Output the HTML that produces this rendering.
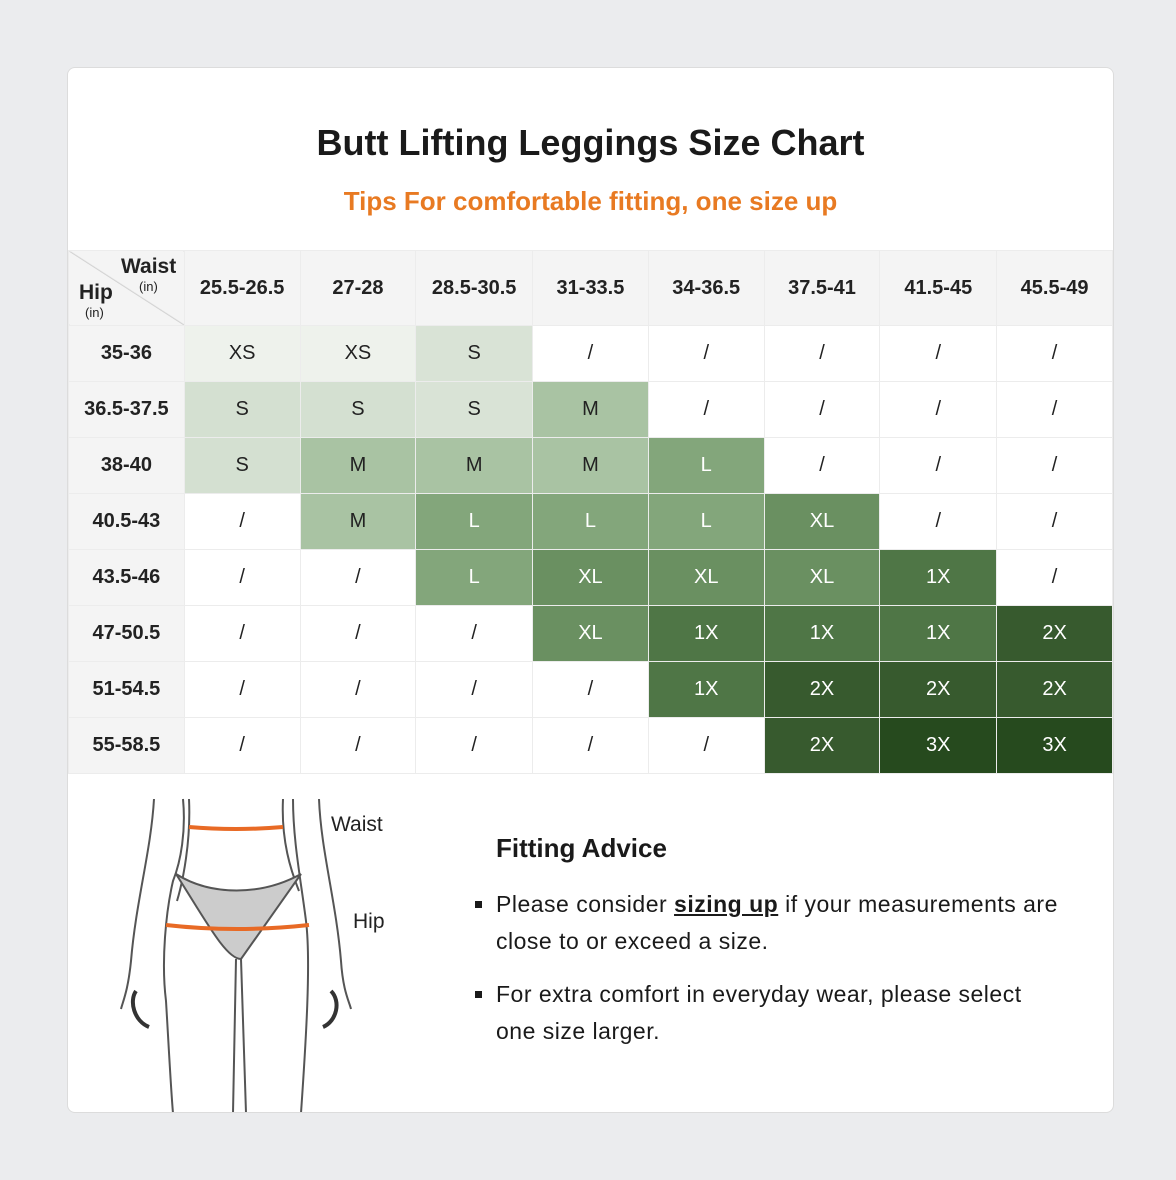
<!DOCTYPE html>
<html><head><meta charset="utf-8"><style>
body{margin:0;width:1176px;height:1180px;background:#ebecee;font-family:"Liberation Sans","DejaVu Sans",sans-serif;position:relative;overflow:hidden}
.card{position:absolute;left:67px;top:67px;width:1045px;height:1044px;background:#fff;border:1px solid #dcdcdc;border-radius:8px;overflow:hidden}
h1{position:absolute;left:0;width:100%;top:54px;margin:0;text-align:center;font-size:36px;font-weight:bold;color:#1a1a1a}
.tip{position:absolute;left:0;width:100%;top:118px;text-align:center;font-size:26px;font-weight:bold;color:#e87a22}
table{position:absolute;left:0;top:182px;border-collapse:collapse;table-layout:fixed}
td{height:55px;border:1px solid #ececec;text-align:center;font-size:20px;color:#222;padding:0}
td.h{background:#f4f4f4;font-weight:bold;font-size:20px}
tr.top td{height:74px}
.w{color:#fff}
.fa{position:absolute;left:428px;top:765px;font-size:26px;color:#1a1a1a;font-weight:bold}
ul{position:absolute;left:398px;top:818px;width:660px;margin:0;padding-left:30px;font-size:23px;letter-spacing:0.5px;line-height:37px;color:#1a1a1a;list-style:square}
li{margin-bottom:16px;white-space:nowrap}
</style></head><body>
<div class="card">
<h1>Butt Lifting Leggings Size Chart</h1>
<div class="tip">Tips For comfortable fitting, one size up</div>
<table>
<colgroup><col style="width:116px"><col style="width:116px"><col style="width:116px"><col style="width:117px"><col style="width:116px"><col style="width:116px"><col style="width:116px"><col style="width:117px"><col style="width:116px"></colgroup>
<tr class="top"><td class="h" style="position:relative;background:#f4f4f4 linear-gradient(to top right,transparent 49.5%,#ccc 50%,transparent 51%)"><span style="position:absolute;left:52px;top:4px;font-size:21px">Waist</span><span style="position:absolute;left:70px;top:28px;font-size:13px;font-weight:normal">(in)</span><span style="position:absolute;left:10px;top:30px;font-size:21px">Hip</span><span style="position:absolute;left:16px;top:54px;font-size:13px;font-weight:normal">(in)</span></td><td class="h">25.5-26.5</td><td class="h">27-28</td><td class="h">28.5-30.5</td><td class="h">31-33.5</td><td class="h">34-36.5</td><td class="h">37.5-41</td><td class="h">41.5-45</td><td class="h">45.5-49</td></tr>
<tr><td class="h">35-36</td><td style="background:#eef2ec">XS</td><td style="background:#eef2ec">XS</td><td style="background:#d9e3d6">S</td><td>/</td><td>/</td><td>/</td><td>/</td><td>/</td></tr>
<tr><td class="h">36.5-37.5</td><td style="background:#d4e0d1">S</td><td style="background:#d4e0d1">S</td><td style="background:#d9e3d6">S</td><td style="background:#a9c3a3">M</td><td>/</td><td>/</td><td>/</td><td>/</td></tr>
<tr><td class="h">38-40</td><td style="background:#d4e0d1">S</td><td style="background:#a9c3a3">M</td><td style="background:#a9c3a3">M</td><td style="background:#a9c3a3">M</td><td class="w" style="background:#83a67b">L</td><td>/</td><td>/</td><td>/</td></tr>
<tr><td class="h">40.5-43</td><td>/</td><td style="background:#a9c3a3">M</td><td class="w" style="background:#83a67b">L</td><td class="w" style="background:#83a67b">L</td><td class="w" style="background:#83a67b">L</td><td class="w" style="background:#6a9061">XL</td><td>/</td><td>/</td></tr>
<tr><td class="h">43.5-46</td><td>/</td><td>/</td><td class="w" style="background:#83a67b">L</td><td class="w" style="background:#6a9061">XL</td><td class="w" style="background:#6a9061">XL</td><td class="w" style="background:#6a9061">XL</td><td class="w" style="background:#4f7646">1X</td><td>/</td></tr>
<tr><td class="h">47-50.5</td><td>/</td><td>/</td><td>/</td><td class="w" style="background:#6a9061">XL</td><td class="w" style="background:#4f7646">1X</td><td class="w" style="background:#4f7646">1X</td><td class="w" style="background:#4f7646">1X</td><td class="w" style="background:#375a2e">2X</td></tr>
<tr><td class="h">51-54.5</td><td>/</td><td>/</td><td>/</td><td>/</td><td class="w" style="background:#4f7646">1X</td><td class="w" style="background:#375a2e">2X</td><td class="w" style="background:#375a2e">2X</td><td class="w" style="background:#375a2e">2X</td></tr>
<tr><td class="h">55-58.5</td><td>/</td><td>/</td><td>/</td><td>/</td><td>/</td><td class="w" style="background:#375a2e">2X</td><td class="w" style="background:#264a1e">3X</td><td class="w" style="background:#264a1e">3X</td></tr>
</table>
<svg style="position:absolute;left:33px;top:713px" width="320" height="332" viewBox="100 780 320 332" fill="none" stroke="#555" stroke-width="2">
<path d="M153 798 C150 850 135 900 130 960 C127 990 122 1000 120 1008"/>
<path d="M182 798 C185 830 180 860 172 880 C165 910 160 960 165 1000 C168 1050 170 1090 172 1112"/>
<path d="M188 798 C190 840 182 880 176 900"/>
<path d="M282 798 C280 840 290 870 298 890"/>
<path d="M292 798 C292 840 300 880 305 920 C310 960 305 1040 300 1112"/>
<path d="M318 798 C320 850 335 900 340 960 C342 990 348 1000 350 1008"/>
<path d="M235 958 L232 1112 M240 958 L245 1112"/>
<path d="M175 873 C210 895 260 895 300 873 L240 958 C225 958 205 920 175 873Z" fill="#ccc"/>
<path d="M188 826 Q235 830 282 826" stroke="#e86a25" stroke-width="4"/>
<path d="M165 924 Q235 932 308 924" stroke="#e86a25" stroke-width="4"/>
<path d="M135 990 C128 1000 133 1020 148 1026 M330 990 C340 1000 336 1020 322 1026" stroke="#333" stroke-width="4"/>
</svg>
<div style="position:absolute;left:263px;top:745px;font-size:21px;color:#222">Waist</div>
<div style="position:absolute;left:285px;top:842px;font-size:21px;color:#222">Hip</div>
<div class="fa">Fitting Advice</div>
<ul><li>Please consider <b style="text-decoration:underline">sizing up</b> if your measurements are<br>close to or exceed a size.</li><li>For extra comfort in everyday wear, please select<br>one size larger.</li></ul>
</div>
</body></html>
